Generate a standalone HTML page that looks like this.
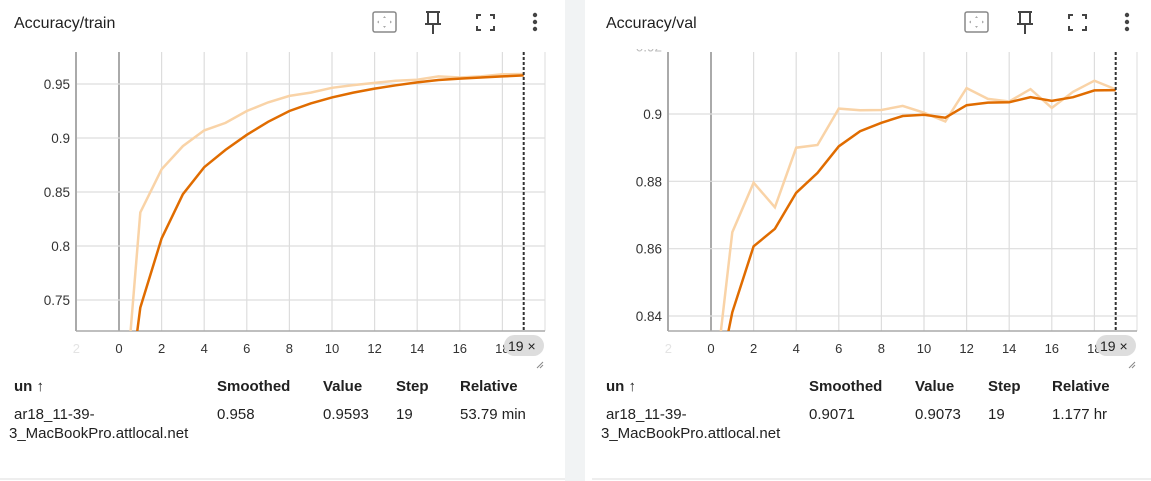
<!DOCTYPE html>
<html><head><meta charset="utf-8"><style>
body{margin:0;background:#fff;width:1151px;height:481px;overflow:hidden;font-family:"Liberation Sans",Arial,sans-serif}
svg{display:block}
</style></head><body>
<svg id="s" width="1151" height="481">
<rect x="565" y="0" width="20" height="481" fill="#f1f3f4"/>
</svg>
<script>
const steps=[0,1,2,3,4,5,6,7,8,9,10,11,12,13,14,15,16,17,18,19];
const trainRaw=[0.59,0.831,0.871,0.8925,0.907,0.914,0.925,0.933,0.939,0.942,0.9465,0.949,0.951,0.953,0.954,0.957,0.956,0.957,0.959,0.9593];
const trainSmooth=[0.59,0.743,0.807,0.848,0.873,0.889,0.903,0.915,0.925,0.932,0.9376,0.942,0.9457,0.9488,0.9515,0.9537,0.955,0.956,0.957,0.958];
const valRaw=[0.81,0.8649,0.8796,0.8723,0.890,0.8908,0.9016,0.9011,0.9012,0.9024,0.9004,0.8978,0.9077,0.9045,0.9037,0.9074,0.9018,0.9066,0.9099,0.9073];
const valSmooth=[0.81,0.8411,0.8607,0.8659,0.8766,0.8825,0.8904,0.8949,0.8974,0.8994,0.8998,0.8989,0.9026,0.9034,0.9035,0.905,0.9039,0.905,0.907,0.9071];
const xTicks=[0,2,4,6,8,10,12,14,16,18];
const trainYTicks=[0.75,0.8,0.85,0.9,0.95];
const trainYLabels=["0.75","0.8","0.85","0.9","0.95"];
const valYTicks=[0.84,0.86,0.88,0.9,0.92];
const valYLabels=["0.84","0.86","0.88","0.9","0.92"];
const NS="http://www.w3.org/2000/svg";
const svg=document.getElementById('s');
function mk(tag,attrs,parent,text){const e=document.createElementNS(NS,tag);for(const k in attrs)e.setAttribute(k,attrs[k]);if(text!==undefined)e.textContent=text;(parent||svg).appendChild(e);return e;}
function chart(ox,id,title,raw,sm,yT,yL,y0,yPx0,y1,yPx1,row){
  const g=mk('g',{transform:'translate('+ox+',0)'});
  
  
  const L=76,R=545,T=52,B=331;
  const X=s=>119+s*21.3;
  const Y=v=>yPx0+(v-y0)*(yPx1-yPx0)/(y1-y0);
  let t=mk('text',{x:14,y:28,'font-size':16,fill:'#212121'},g,title);
  
  let ic=mk('g',{},g);
  mk('rect',{x:373,y:12,width:23,height:20,rx:2,fill:'none',stroke:'#888','stroke-width':1.5},ic);
  mk('path',{d:'M384.5 16l-1.5 2h3zM384.5 28l-1.5-2h3zM377 22l2-1.5v3zM392 22l-2-1.5v3z',fill:'#aaa'},ic);
  ic=mk('g',{},g);
  mk('path',{d:'M426 12h14M428 12v12h10V12M425 24h16M433 24v10',stroke:'#444','stroke-width':2,fill:'none'},ic);
  ic=mk('g',{},g);
  mk('path',{d:'M477 19v-4h4M490 15h4v4M494 26v4h-4M481 30h-4v-4',stroke:'#444','stroke-width':2,fill:'none'},ic);
  ic=mk('g',{},g);
  [15,22,29].forEach(y=>mk('circle',{cx:535,cy:y,r:2.2,fill:'#444'},ic));
  const grid=mk('g',{},g);
  xTicks.forEach(s=>{mk('line',{x1:X(s),x2:X(s),y1:T,y2:B,stroke:s===0?'#aaa':'#ddd','stroke-width':s===0?2:1.2},grid);
    const tl=mk('text',{x:X(s),y:353,'font-size':13,'text-anchor':'middle',fill:'#333'},g,String(s));
    });
  mk('text',{x:X(-2),y:353,'font-size':13,'text-anchor':'middle',fill:'#e4e4e4'},g,'2');
  mk('line',{x1:R,x2:R,y1:T,y2:B,stroke:'#ddd'},grid);
  const lcp=mk('clipPath',{id:'l'+id},g);mk('rect',{x:0,y:T-3,width:80,height:300},lcp);
  const lg=mk('g',{'clip-path':'url(#l'+id+')'},g);
  yT.forEach((v,i)=>{const y=Y(v);
    if(y>=T)mk('line',{x1:L,x2:R,y1:y,y2:y,stroke:'#ddd','stroke-width':1.2},grid);
    const tl=mk('text',{x:70,y:y+5,'font-size':13.5,'text-anchor':'end',fill:y<T?'#bbb':'#333'},lg,yL[i]);
    });
  mk('line',{x1:L,x2:L,y1:T,y2:B,stroke:'#aaa','stroke-width':2},g);
  mk('line',{x1:L,x2:R,y1:B,y2:B,stroke:'#aaa','stroke-width':1.5},g);
  const cp=mk('clipPath',{id:'c'+id},g);mk('rect',{x:L,y:T,width:R-L,height:B-T},cp);
  const pts=a=>a.map((v,i)=>X(steps[i]).toFixed(1)+','+Y(v).toFixed(1)).join(' ');
  let p=mk('polyline',{points:pts(raw),fill:'none',stroke:'#f9d3a7','stroke-width':2.5,'clip-path':'url(#c'+id+')'},g);
  
  p=mk('polyline',{points:pts(sm),fill:'none',stroke:'#e06c00','stroke-width':2.5,'clip-path':'url(#c'+id+')'},g);
  
  const last=steps[steps.length-1];
  let d=mk('line',{x1:X(last),x2:X(last),y1:T,y2:B,stroke:'#333','stroke-width':2,'stroke-dasharray':'3,2'},g);
  
  const b=mk('g',{},g);
  mk('rect',{x:504,y:335,width:40,height:21,rx:10.5,fill:'#ddd'},b);
  mk('text',{x:508,y:351,'font-size':14,fill:'#222'},b,'19 ×');
  mk('path',{d:'M537 368l6-6M540 368l3-3',stroke:'#888','stroke-width':1},g);
  const tb=mk('g',{'font-size':15,fill:'#212121'},g);
  [['un ↑',14],['Smoothed',217],['Value',323],['Step',396],['Relative',460]].forEach(h=>{
    const e=mk('text',{x:h[1],y:391,'font-weight':'bold'},tb,h[0]);});
  mk('text',{x:14,y:419},tb,'ar18_11-39-');
  mk('text',{x:9,y:438},tb,'3_MacBookPro.attlocal.net');
  [[row[0],217],[row[1],323],[row[2],396],[row[3],460]].forEach(c=>mk('text',{x:c[1],y:419},tb,c[0]));
  mk('line',{x1:0,x2:565,y1:479,y2:479,stroke:'#ddd'},g);
}
chart(0,'train','Accuracy/train',trainRaw,trainSmooth,trainYTicks,trainYLabels,0.95,84,0.75,300,['0.958','0.9593','19','53.79 min']);
chart(592,'val','Accuracy/val',valRaw,valSmooth,valYTicks,valYLabels,0.9,114,0.84,316,['0.9071','0.9073','19','1.177 hr']);
</script>
</body></html>
